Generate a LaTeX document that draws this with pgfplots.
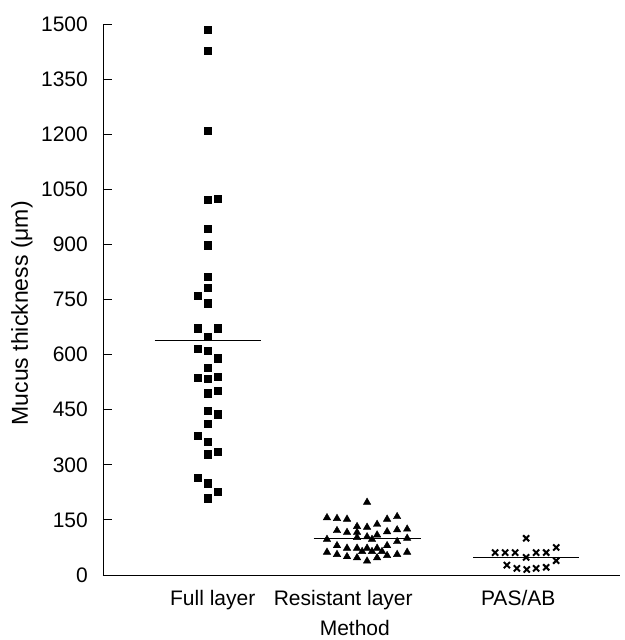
\documentclass[border=0pt]{standalone}
\usepackage{fontspec}
\setmainfont{Liberation Sans}
\usepackage{pgfplots}
\pgfplotsset{compat=1.18}
\begin{document}
\begin{tikzpicture}
\useasboundingbox (-103pt,-65pt) rectangle (521pt,575pt);
\begin{axis}[
  at={(0,0)}, anchor=south west,
  scale only axis,
  width=517pt, height=551pt,
  xmin=0.34, xmax=3.59,
  ymin=0, ymax=1500,
  axis x line=bottom, axis y line=left,
  axis line style={-, line width=0.9pt},
  font=\fontsize{21}{25}\selectfont,
  /pgf/number format/assume math mode=true,
  /pgf/number format/1000 sep={},
  ytick={0,150,...,1500},
  tick align=inside,
  major tick length=9pt,
  y tick style={line width=0.9pt, black},
  xtick={1.03,1.85,2.95},
  xticklabels={Full layer, Resistant layer, PAS/AB},
  x tick style={draw=none},
  xticklabel style={anchor=base, yshift=-30pt},
  yticklabel style={anchor=east, inner sep=0pt, xshift=-15pt},
  xlabel={Method},
  ylabel={Mucus thickness (μm)},
  every axis x label/.style={at={(axis description cs:0.487,-0.096)}, anchor=center},
  every axis y label/.style={at={(axis description cs:-0.157,0.475)}, anchor=center, rotate=90, font=\fontsize{23}{27}\selectfont},
  clip=false,
]
% Full layer
\addplot[only marks, mark=square*, mark size=3.6pt, black] coordinates {
  (1,1484) (1,1427) (1,1210) (1,1021) (1.063,1025) (1,942) (1,898)
  (1,812) (1,783) (0.937,760) (1,740) (0.937,672) (1.063,672) (1,649)
  (0.937,617) (1,610) (1.063,590) (1,565) (0.937,538) (1,534) (1.063,540)
  (1,495) (1.063,502) (1,447) (1.063,438) (1,411) (0.937,379) (1,363)
  (1,329) (1.063,336) (0.937,265) (1,250) (1.063,227) (1,209)
};
% Resistant layer
\addplot[only marks, mark=triangle*, mark size=4.3pt, black] coordinates {
  (1.748,156) (1.748,97) (1.748,62)
  (1.811,154) (1.811,121) (1.811,80) (1.811,56)
  (1.874,152) (1.874,116) (1.874,73) (1.874,50)
  (1.937,132) (1.937,116) (1.937,102) (1.937,73) (1.937,47)
  (1.969,64)
  (2,198) (2,130) (2,104) (2,73) (2,38)
  (2.031,97) (2.031,64)
  (2.063,138) (2.063,109) (2.063,73) (2.063,47)
  (2.094,64)
  (2.126,152) (2.126,118) (2.126,80) (2.126,53)
  (2.189,159) (2.189,123) (2.189,91) (2.189,56)
  (2.252,125) (2.252,100) (2.252,62)
};
% PAS/AB
\addplot[only marks, mark=x, mark size=4.3pt, line width=2pt, black] coordinates {
  (3,100)
  (2.805,61) (2.868,61) (2.931,61) (3,48) (3.063,61) (3.126,61) (3.189,75)
  (3.189,39)
  (2.879,27) (2.942,18) (3.004,15) (3.063,18) (3.126,21)
};
% mean lines
\addplot[black, line width=0.8pt, no marks] coordinates {(0.664,640) (1.336,640)};
\addplot[black, line width=0.8pt, no marks] coordinates {(1.664,100) (2.336,100)};
\addplot[black, line width=0.8pt, no marks] coordinates {(2.667,47) (3.333,47)};
\end{axis}
\end{tikzpicture}
\end{document}
